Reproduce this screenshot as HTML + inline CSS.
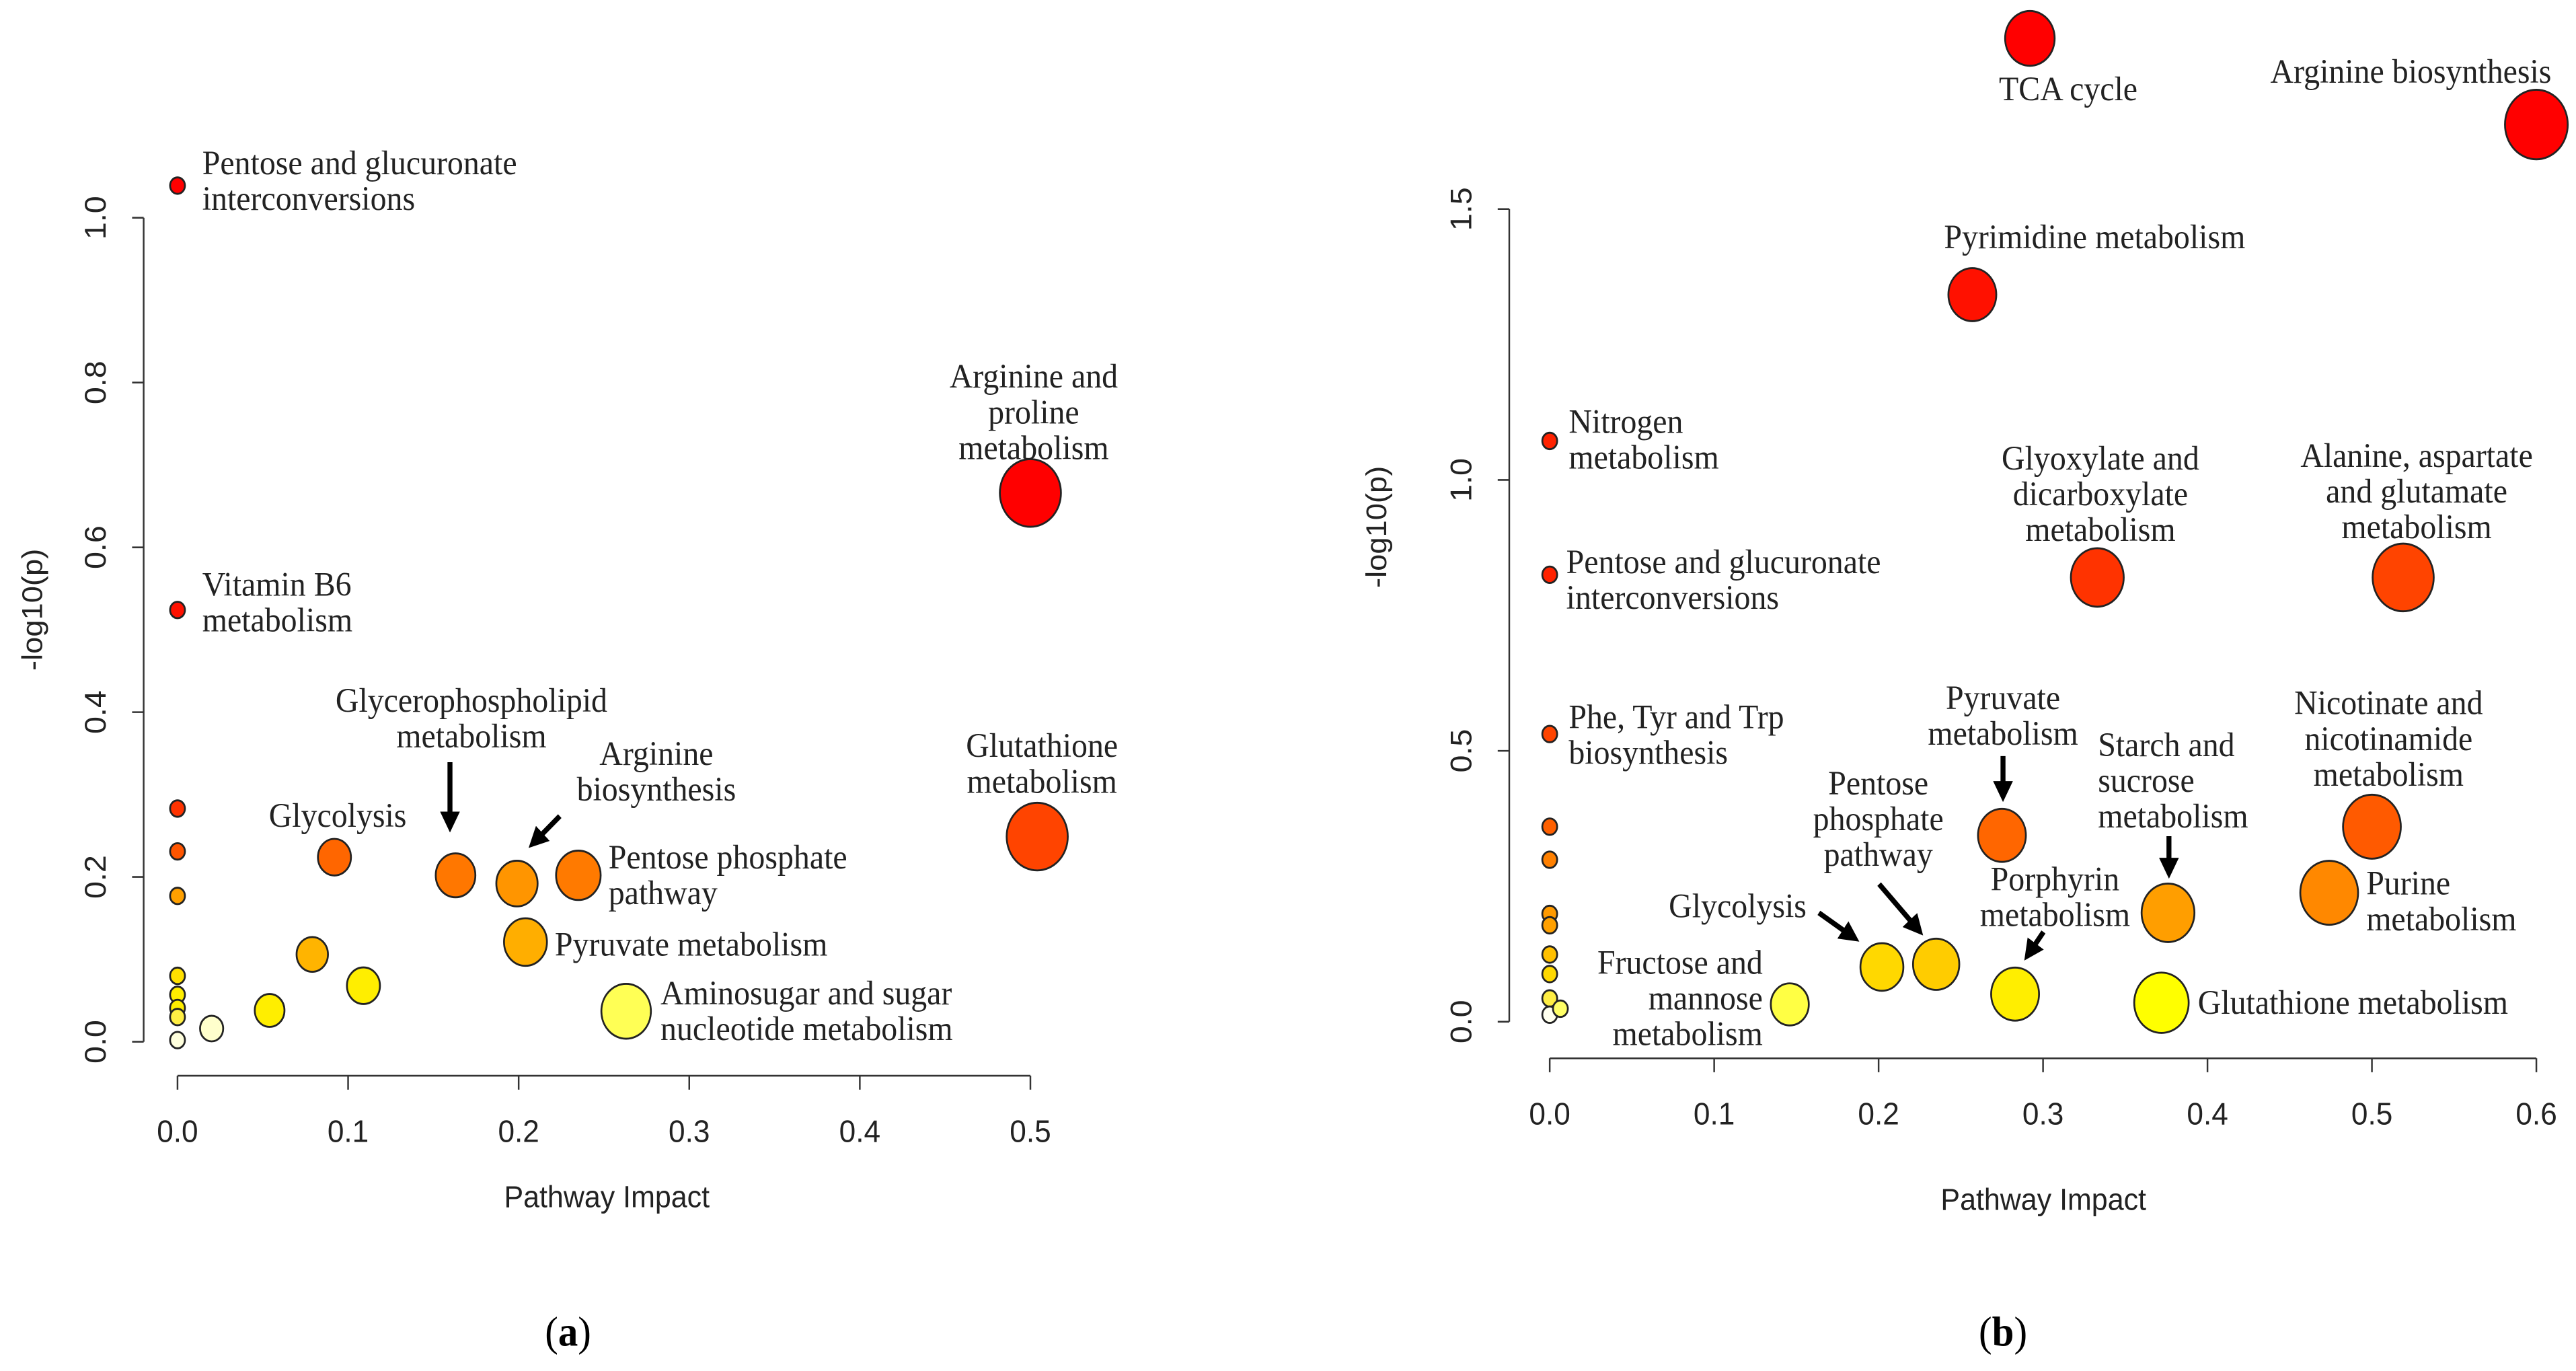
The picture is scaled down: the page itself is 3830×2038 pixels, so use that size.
<!DOCTYPE html>
<html><head><meta charset="utf-8"><style>
html,body{margin:0;padding:0;background:#fff;}
svg{display:block;}
.lab{font-family:"Liberation Serif",serif;font-size:39px;fill:#222;}
.tick{font-family:"Liberation Sans",sans-serif;font-size:36px;fill:#222;}
.ttl{font-family:"Liberation Sans",sans-serif;font-size:35px;fill:#222;}
.cap{font-family:"Liberation Serif",serif;font-size:48px;fill:#000;}
</style></head><body>
<svg id="fig" width="3830" height="2038" viewBox="0 0 3120 1574" preserveAspectRatio="none" xmlns="http://www.w3.org/2000/svg">
<defs><marker id="ah" markerWidth="4" markerHeight="4" refX="2.2" refY="2" orient="auto" markerUnits="strokeWidth"><path d="M0,0 L4,2 L0,4 z" fill="#000"/></marker></defs>
<g id="pa"></g>
<g id="pb" transform="translate(1560,0)"></g>
</svg>
<script>
// Panel (a) data
const aImpact = [0,0,0,0,0,0,0,0,0,0,0.020,0.054,0.079,0.109,0.092,0.163,0.199,0.235,0.204,0.263,0.500,0.504];
const aLogP   = [1.039,0.524,0.283,0.231,0.177,0.080,0.057,0.041,0.030,0.002,0.016,0.038,0.106,0.068,0.224,0.202,0.192,0.202,0.121,0.037,0.666,0.249];
const aSize   = [9,9,9,9,9,9,9,9,9,9,14,18,19,20,20,24,25,27,26,30,37,37];
const aColor  = ["#ff0000","#ff1100","#ff3300","#ff5500","#ffa000","#ffe000","#ffee00","#ffee00","#ffee44","#ffffdd","#ffffcc","#ffee00","#ffb400","#ffee00","#ff6600","#ff7700","#ff9500","#ff7a00","#ffae00","#ffff55","#ff0000","#ff4400"];
const aXTicks = ["0.0","0.1","0.2","0.3","0.4","0.5"];
const aYTicks = ["0.0","0.2","0.4","0.6","0.8","1.0"];
// Panel (b) data
const bImpact = [0.292,0.600,0.257,0,0,0,0,0,0,0,0,0,0,0,0.0065,0.333,0.519,0.500,0.474,0.275,0.376,0.283,0.372,0.235,0.202,0.146];
const bLogP   = [1.815,1.656,1.342,1.072,0.825,0.531,0.360,0.299,0.199,0.178,0.124,0.088,0.043,0.013,0.024,0.820,0.820,0.360,0.238,0.344,0.201,0.051,0.035,0.106,0.101,0.032];
const bSize   = [30,38,29,9,9,9,9,9,9,9,9,9,9,9,9,32,37,35,35,29,32,29,33,28,26,23];
const bColor  = ["#ff0000","#ff0000","#ff1100","#ff2200","#ff2200","#ff4400","#ff6000","#ff8000","#ff9a00","#ffa000","#ffc000","#ffd800","#ffee44","#ffffee","#ffff66","#ff3300","#ff4400","#ff5a00","#ff8800","#ff6600","#ff9e00","#ffee00","#ffff00","#ffcc00","#ffd800","#ffff44"];
const bXTicks = ["0.0","0.1","0.2","0.3","0.4","0.5","0.6"];
const bYTicks = ["0.0","0.5","1.0","1.5"];

const NS="http://www.w3.org/2000/svg";
function mk(tag,attrs,parent,txt){const e=document.createElementNS(NS,tag);for(const k in attrs)e.setAttribute(k,attrs[k]);if(txt!==undefined)e.textContent=txt;parent.appendChild(e);return e;}

function panel(g,cfg){
  const sx=v=>cfg.x0+(v-0)*(cfg.x1-cfg.x0)/cfg.xmax;
  const sy=v=>cfg.y0-(v)*(cfg.y0-cfg.y1)/cfg.ymaxTick;
  let l=mk('line',{x1:cfg.axX,x2:cfg.axX,y1:sy(0),y2:sy(cfg.ymaxTick),stroke:'#333','stroke-width':2},g);
  
  
  cfg.yTicks.forEach(t=>{const v=parseFloat(t);const y=sy(v);
    const tk=mk('line',{x1:cfg.axX-14,x2:cfg.axX,y1:y,y2:y,stroke:'#333','stroke-width':2},g);
    
    
    const tx=mk('text',{class:'tick',x:0,y:0,'text-anchor':'middle',transform:`translate(${cfg.axX-46},${y}) rotate(-90)`},g,t);
    
    
  });
  l=mk('line',{x1:sx(0),x2:sx(cfg.xmax),y1:cfg.axY,y2:cfg.axY,stroke:'#333','stroke-width':2},g);
  
  
  cfg.xTicks.forEach(t=>{const v=parseFloat(t);const x=sx(v);
    const tk=mk('line',{x1:x,x2:x,y1:cfg.axY,y2:cfg.axY+16,stroke:'#333','stroke-width':2},g);
    
    
    const tx=mk('text',{class:'tick',x:x,y:cfg.axY+76,'text-anchor':'middle'},g,t);
    
    
  });
  cfg.X.forEach((xv,i)=>{
    const c=mk('ellipse',{cx:sx(xv),cy:sy(cfg.Y[i]),rx:cfg.S[i],ry:cfg.S[i]*1.05,fill:cfg.C[i],stroke:'#222','stroke-width':2.2},g);
    
    
  });
}

const pa=document.getElementById('pa'), pb=document.getElementById('pb');
panel(pa,{x0:215,x1:1248,xmax:0.5,y0:1196,y1:250,ymaxTick:1.0,axX:174,axY:1235,xTicks:aXTicks,yTicks:aYTicks,X:aImpact,Y:aLogP,S:aSize,C:aColor});
panel(pb,{x0:317,x1:1512,xmax:0.6,y0:1173,y1:240,ymaxTick:1.5,axX:268,axY:1215,xTicks:bXTicks,yTicks:bYTicks,X:bImpact,Y:bLogP,S:bSize,C:bColor});

function labels(g,list){list.forEach(([x,y,anchor,lines])=>{
  lines.forEach((s,i)=>{const t=mk('text',{class:'lab',x:x,y:y+12+i*41,'text-anchor':anchor},g,s);
    
    });
});}
function arrows(g,list){list.forEach(([x1,y1,x2,y2])=>{
  const a=mk('line',{x1:x1,y1:y1,x2:x2,y2:y2,stroke:'#000','stroke-width':6,'marker-end':'url(#ah)'},g);
  
  
});}

labels(pa,[
 [245,188,'start',['Pentose and glucuronate','interconversions']],
 [1252,433,'middle',['Arginine and','proline','metabolism']],
 [245,672,'start',['Vitamin B6','metabolism']],
 [571,805,'middle',['Glycerophospholipid','metabolism']],
 [795,866,'middle',['Arginine','biosynthesis']],
 [409,937,'middle',['Glycolysis']],
 [1262,857,'middle',['Glutathione','metabolism']],
 [737,985,'start',['Pentose phosphate','pathway']],
 [672,1085,'start',['Pyruvate metabolism']],
 [800,1141,'start',['Aminosugar and sugar','nucleotide metabolism']]
]);
arrows(pa,[[545,875,545,945],[678,937,648,966]]);

labels(pb,[
 [945,103,'middle',['TCA cycle']],
 [1360,83,'middle',['Arginine biosynthesis']],
 [977,273,'middle',['Pyrimidine metabolism']],
 [340,485,'start',['Nitrogen','metabolism']],
 [337,646,'start',['Pentose and glucuronate','interconversions']],
 [984,527,'middle',['Glyoxylate and','dicarboxylate','metabolism']],
 [1367,524,'middle',['Alanine, aspartate','and glutamate','metabolism']],
 [340,824,'start',['Phe, Tyr and Trp','biosynthesis']],
 [866,802,'middle',['Pyruvate','metabolism']],
 [981,856,'start',['Starch and','sucrose','metabolism']],
 [1333,808,'middle',['Nicotinate and','nicotinamide','metabolism']],
 [715,900,'middle',['Pentose','phosphate','pathway']],
 [929,1010,'middle',['Porphyrin','metabolism']],
 [1306,1015,'start',['Purine','metabolism']],
 [628,1041,'end',['Glycolysis']],
 [575,1106,'end',['Fructose and','mannose','metabolism']],
 [1102,1152,'start',['Glutathione metabolism']]
]);
arrows(pb,[[866,868,866,910],[1067,960,1067,998],[643,1048,683,1075],[716,1015,762,1066],[915,1070,898,1094]]);

[[pa,40,700,'-log10(p)',true],[pa,735,1375,'Pathway Impact',false],[pb,108,605,'-log10(p)',true],[pb,915,1378,'Pathway Impact',false]].forEach(([g,x,y,s,rot])=>{
  const t=mk('text',rot?{class:'ttl',x:0,y:0,'text-anchor':'middle',transform:`translate(${x+11},${y}) rotate(-90)`}:{class:'ttl',x:x,y:y+11,'text-anchor':'middle'},g,s);
  
  
});
[[pa,688,'a'],[pb,866,'b']].forEach(([g,x,s])=>{
  const t=mk('text',{class:'cap',x:x,y:1545,'text-anchor':'middle'},g);
  
  
  mk('tspan',{},t,'(');mk('tspan',{'font-weight':'bold'},t,s);mk('tspan',{},t,')');
});
</script>
</body></html>
